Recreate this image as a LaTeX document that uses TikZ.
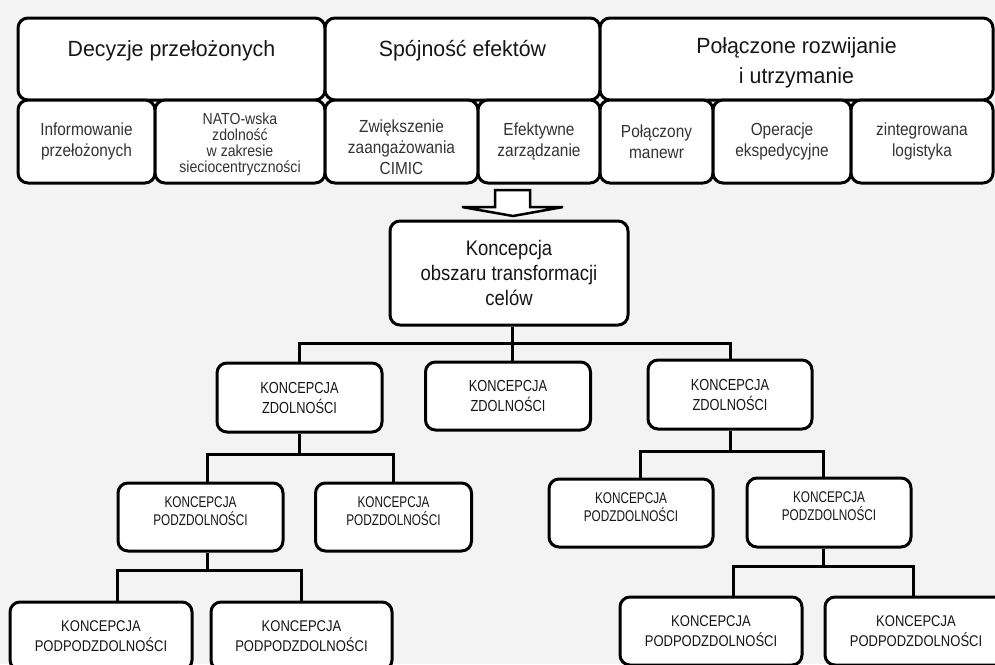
\documentclass[tikz,border=0pt]{standalone}
\usepackage{fontspec}
\setmainfont{Liberation Sans}
\newfontfamily\fTitle[FakeStretch=0.97]{Liberation Sans}
\newfontfamily\fSub[FakeStretch=0.88]{Liberation Sans}
\newfontfamily\fMain[FakeStretch=0.88]{Liberation Sans}
\newfontfamily\fLa[FakeStretch=0.8]{Liberation Sans}
\newfontfamily\fLb[FakeStretch=0.76]{Liberation Sans}
\newfontfamily\fLc[FakeStretch=0.84]{Liberation Sans}
\definecolor{bg}{RGB}{243,243,243}
\definecolor{ink}{RGB}{22,22,22}
\begin{document}
\begin{tikzpicture}[x=1pt,y=-1pt,
  box/.style={draw=black, line width=3pt, rounded corners=10pt, fill=white, align=center, inner sep=0pt, text=ink},
  conn/.style={draw=black, line width=3pt},
  titlebox/.style={box, font=\fTitle\fontsize{22pt}{30pt}\selectfont, minimum height=82pt},
  subbox/.style={box, font=\fSub\fontsize{17.5pt}{21pt}\selectfont, minimum height=83pt, text=black!80},
  mainbox/.style={box, font=\fMain\fontsize{21pt}{25pt}\selectfont, minimum width=238pt, minimum height=104pt},
  lvla/.style={box, font=\fLa\fontsize{16pt}{20pt}\selectfont, minimum height=69pt, minimum width=165pt},
  lvlb/.style={box, font=\fLb\fontsize{15.5pt}{18pt}\selectfont, minimum height=68pt, minimum width=164pt},
  lvlc/.style={box, font=\fLc\fontsize{15.5pt}{20pt}\selectfont, minimum height=68pt, minimum width=182pt}
]
\useasboundingbox (0,0) rectangle (995,664);
\clip (0,0) rectangle (995,664);
\fill[bg] (0,0) rectangle (995,664);

% top row
\node[titlebox, minimum width=307pt] (T1) at (171.5,59) {\rule{0pt}{24pt}Decyzje przełożonych\\\mbox{}};
\node[titlebox, minimum width=275pt] (T2) at (462.5,59) {\rule{0pt}{24pt}Spójność efektów\\\mbox{}};
\node[titlebox, minimum width=393pt] (T3) at (796.5,59) {\rule{0pt}{24pt}Połączone rozwijanie\\i utrzymanie};

% second row
\node[subbox, minimum width=137pt] (S1) at (86.5,141.5) {Informowanie\\przełożonych};
\node[subbox, minimum width=170pt, font=\fSub\fontsize{16pt}{16pt}\selectfont] (S2) at (240,141.5) {\rule{0pt}{17pt}NATO-wska\\zdolność\\w zakresie\\sieciocentryczności};
\node[subbox, minimum width=153pt] (S3) at (401.5,141.5) {\rule{0pt}{25pt}Zwiększenie\\zaangażowania\\CIMIC};
\node[subbox, minimum width=122pt] (S4) at (539,141.5) {Efektywne\\zarządzanie};
\node[subbox, minimum width=113pt] (S5) at (656.5,141.5) {Połączony\\manewr};
\node[subbox, minimum width=138pt] (S6) at (782,141.5) {Operacje\\ekspedycyjne};
\node[subbox, minimum width=142pt] (S7) at (922,141.5) {zintegrowana\\logistyka};

% block arrow
\draw[line width=2.5pt, fill=white, line join=miter]
  (495,190) -- (530,190) -- (530,207) -- (563,207) -- (513,216) -- (462,207) -- (495,207) -- cycle;

% central concept
\node[mainbox] (X) at (509,273) {Koncepcja\\obszaru transformacji\\celów};

% level 2
\node[lvla] (A) at (299.5,397.5) {KONCEPCJA\\ZDOLNOŚCI};
\node[lvla, minimum height=68pt] (B) at (508,396) {KONCEPCJA\\ZDOLNOŚCI};
\node[lvla, minimum width=164pt] (C) at (730,394.5) {KONCEPCJA\\ZDOLNOŚCI};

% level 3
\node[lvlb, minimum width=165pt] (D) at (200.5,517) {KONCEPCJA\\PODZDOLNOŚCI\rule[-12pt]{0pt}{12pt}};
\node[lvlb, minimum width=156pt] (E) at (393.5,517) {KONCEPCJA\\PODZDOLNOŚCI\rule[-12pt]{0pt}{12pt}};
\node[lvlb] (F) at (631,513) {KONCEPCJA\\PODZDOLNOŚCI\rule[-12pt]{0pt}{12pt}};
\node[lvlb, minimum height=69pt] (G) at (829,512.5) {KONCEPCJA\\PODZDOLNOŚCI\rule[-12pt]{0pt}{12pt}};

% level 4
\node[lvlc] (J) at (101,636) {KONCEPCJA\\PODPODZDOLNOŚCI};
\node[lvlc, minimum width=181pt] (K) at (301.5,636) {KONCEPCJA\\PODPODZDOLNOŚCI};
\node[lvlc] (H) at (711,631) {KONCEPCJA\\PODPODZDOLNOŚCI};
\node[lvlc] (I) at (916,631) {KONCEPCJA\\PODPODZDOLNOŚCI};

% bus levels
\coordinate (b1) at (0,343);
\coordinate (b2) at (0,454);
\coordinate (b3) at (0,451);
\coordinate (b4) at (0,570);
\coordinate (b5) at (0,566);

% connectors
\coordinate (Xs) at ([xshift=3pt]X.south);
\draw[conn] (Xs) -- (Xs |- B.north);
\draw[conn] (A.north) |- (Xs |- b1);
\draw[conn] (C.north) |- (Xs |- b1);

\draw[conn] (A.south) -- (A.south |- b2);
\coordinate (Dn) at ([xshift=7pt]D.north);
\draw[conn] (Dn) |- (A.south |- b2);
\draw[conn] (E.north) |- (A.south |- b2);

\draw[conn] (C.south) -- (C.south |- b3);
\coordinate (Fn) at ([xshift=9pt]F.north);
\coordinate (Gn) at ([xshift=-6pt]G.north);
\draw[conn] (Fn) |- (C.south |- b3);
\draw[conn] (Gn) |- (C.south |- b3);

\coordinate (Ds) at ([xshift=7pt]D.south);
\draw[conn] (Ds) -- (Ds |- b4);
\coordinate (Jn) at ([xshift=16pt]J.north);
\draw[conn] (Jn) |- (Ds |- b4);
\draw[conn] (K.north) |- (Ds |- b4);

\coordinate (Gs) at ([xshift=-6pt]G.south);
\draw[conn] (Gs) -- (Gs |- b5);
\coordinate (Hn) at ([xshift=22pt]H.north);
\coordinate (In) at ([xshift=-3pt]I.north);
\draw[conn] (Hn) |- (Gs |- b5);
\draw[conn] (In) |- (Gs |- b5);
\end{tikzpicture}
\end{document}
